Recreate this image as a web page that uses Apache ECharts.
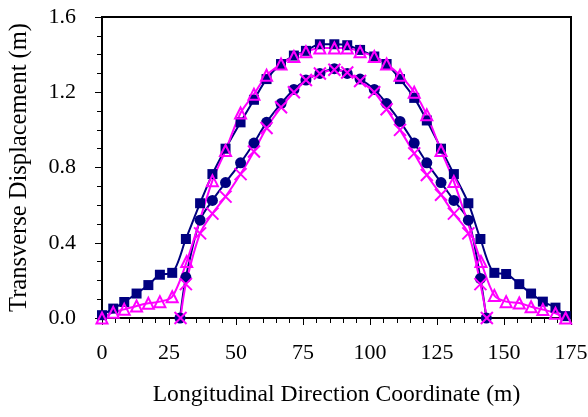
<!DOCTYPE html>
<html>
<head>
<meta charset="utf-8">
<script src="https://cdn.jsdelivr.net/npm/echarts@6/dist/echarts.min.js"></script>
<style>html,body{margin:0;padding:0;background:#fff}#c{width:588px;height:417px}</style>
</head>
<body>
<div id="c"></div>
<script>
// Data
const xTicks = [0, 25, 50, 75, 100, 125, 150, 175];
const yTicks = [0.0, 0.4, 0.8, 1.2, 1.6];

const sqX = [0, 4.2, 8.3, 12.9, 17.3, 21.6, 26.2, 31.3, 36.6, 41.2, 46.1, 51.7, 56.7, 61.4, 66.8, 71.6, 76.1, 81.3, 86.7, 91.5, 96.3, 101.6, 106.2, 111.2, 116.5, 121.2, 126.5, 131.3, 136.7, 141.2, 146.4, 150.8, 155.7, 160.1, 164.5, 169.2, 173];
const sqY = [0.015, 0.05, 0.085, 0.13, 0.175, 0.23, 0.24, 0.42, 0.61, 0.765, 0.90, 1.04, 1.16, 1.27, 1.35, 1.395, 1.42, 1.455, 1.455, 1.45, 1.425, 1.39, 1.35, 1.27, 1.17, 1.05, 0.90, 0.765, 0.61, 0.42, 0.24, 0.234, 0.18, 0.13, 0.087, 0.055, 0.01];

const triX = [0, 4.2, 8.3, 12.9, 17.3, 21.6, 26.2, 31.6, 41.2, 46.1, 51.7, 56.7, 61.4, 66.8, 71.6, 76.1, 81.3, 86.7, 91.5, 96.3, 101.6, 106.2, 111.2, 116.5, 121.2, 126.5, 131.3, 141.4, 146.4, 150.8, 155.7, 160.1, 164.5, 169.2, 173];
const triY = [0, 0.03, 0.046, 0.064, 0.078, 0.087, 0.113, 0.30, 0.73, 0.89, 1.09, 1.19, 1.29, 1.35, 1.39, 1.415, 1.435, 1.435, 1.435, 1.415, 1.39, 1.35, 1.29, 1.20, 1.08, 0.89, 0.725, 0.30, 0.12, 0.087, 0.08, 0.06, 0.045, 0.025, 0];

const cirX = [29.1, 31.3, 36.6, 41.2, 46.1, 51.7, 56.7, 61.4, 66.8, 71.6, 76.1, 81.3, 86.7, 91.5, 96.3, 101.6, 106.2, 111.2, 116.5, 121.2, 126.5, 131.3, 136.7, 141.2, 143.4];
const cirY = [0, 0.216, 0.52, 0.625, 0.72, 0.825, 0.93, 1.04, 1.14, 1.215, 1.265, 1.30, 1.325, 1.30, 1.27, 1.215, 1.14, 1.045, 0.93, 0.825, 0.72, 0.625, 0.52, 0.21, 0];

const crsX = [29.3, 31.3, 36.6, 41.2, 46.1, 51.7, 56.7, 61.4, 66.8, 71.6, 76.1, 81.3, 86.7, 91.5, 96.3, 101.6, 106.2, 111.2, 116.5, 121.2, 126.5, 131.3, 136.7, 141.2, 143.6];
const crsY = [0, 0.18, 0.45, 0.555, 0.645, 0.765, 0.885, 1.01, 1.12, 1.20, 1.265, 1.30, 1.32, 1.305, 1.26, 1.20, 1.11, 1.00, 0.875, 0.76, 0.655, 0.555, 0.45, 0.18, 0];

const zip = (xs, ys) => xs.map((x, i) => [x, ys[i]]);
const NAVY = '#000080', MAG = '#FF00FF';
const FONT = '"Liberation Serif", "Times New Roman", serif';

const chart = echarts.init(document.getElementById('c'), null, {renderer: 'canvas'});
chart.setOption({
  animation: false,
  backgroundColor: '#fff',
  grid: {left: 102, right: 17, top: 17, bottom: 99, outerBoundsMode: 'none', containLabel: false,
         show: true, borderColor: '#000', borderWidth: 2, backgroundColor: 'transparent'},
  xAxis: {
    type: 'value', min: xTicks[0], max: xTicks[xTicks.length - 1], interval: 25,
    name: 'Longitudinal Direction Coordinate (m)', nameLocation: 'middle', nameGap: 65,
    nameTextStyle: {fontFamily: FONT, fontSize: 23.6, color: '#000'},
    axisLine: {onZero: false, lineStyle: {color: '#000', width: 2}},
    axisTick: {show: true, inside: false, length: 7, lineStyle: {color: '#000', width: 1}},
    minorTick: {show: true, splitNumber: 5, length: 5, lineStyle: {color: '#000', width: 1}},
    axisLabel: {fontFamily: FONT, fontSize: 22, color: '#000', margin: 24,
      formatter: v => xTicks.includes(v) ? String(v) : ''},
    splitLine: {show: false}
  },
  yAxis: {
    type: 'value', min: yTicks[0], max: yTicks[yTicks.length - 1], interval: 0.4,
    name: 'Transverse Displacement (m)', nameLocation: 'middle', nameGap: 70,
    nameTextStyle: {fontFamily: FONT, fontSize: 24.5, color: '#000'},
    axisLine: {onZero: false, lineStyle: {color: '#000', width: 2}},
    axisTick: {show: true, inside: false, length: 7, lineStyle: {color: '#000', width: 1}},
    minorTick: {show: true, splitNumber: 4, length: 5, lineStyle: {color: '#000', width: 1}},
    axisLabel: {fontFamily: FONT, fontSize: 22, color: '#000', margin: 26,
      formatter: v => v.toFixed(1)},
    splitLine: {show: false}
  },
  series: [
    {type: 'line', data: zip(sqX, sqY), smooth: 0.3, clip: false,
     symbol: 'rect', symbolSize: 10,
     lineStyle: {color: NAVY, width: 2}, itemStyle: {color: NAVY, borderColor: NAVY, borderWidth: 0}},
    {type: 'line', data: zip(cirX, cirY), smooth: 0.3, clip: false,
     symbol: 'circle', symbolSize: 11,
     lineStyle: {color: NAVY, width: 2}, itemStyle: {color: NAVY, borderColor: NAVY, borderWidth: 0}},
    {type: 'line', data: zip(triX, triY), smooth: 0.3, clip: false,
     symbol: 'triangle', symbolSize: 11,
     lineStyle: {color: MAG, width: 2}, itemStyle: {color: 'none', borderColor: MAG, borderWidth: 2}},
    {type: 'line', data: zip(crsX, crsY), smooth: 0.3, clip: false,
     symbol: 'path://M0,0L10,10M10,0L0,10', symbolSize: 12,
     lineStyle: {color: MAG, width: 2}, itemStyle: {color: 'none', borderColor: MAG, borderWidth: 2}}
  ]
});
</script>
</body>
</html>
